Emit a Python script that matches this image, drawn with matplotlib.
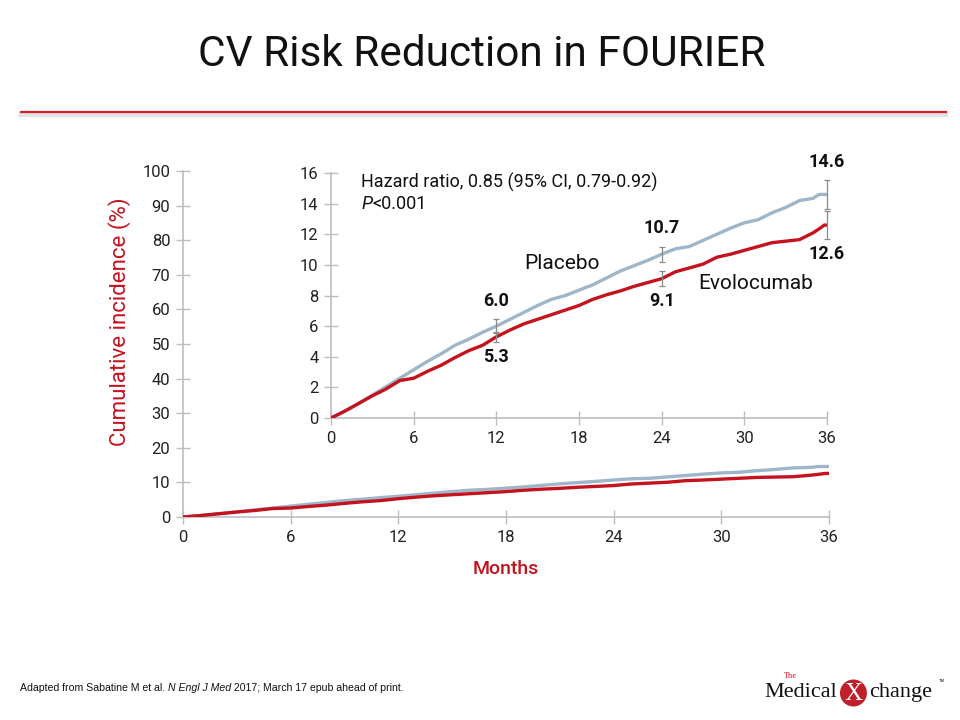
import matplotlib
matplotlib.use("Agg")
import matplotlib.pyplot as plt
from matplotlib.lines import Line2D
from matplotlib.patches import Ellipse

plt.rcParams["font.family"] = ["Roboto", "DejaVu Sans"]

RED = "#c4121f"
BLUE = "#9fb5c8"
GRAY = "#bdbdbd"
TXT = "#222222"

# Kaplan-Meier estimates (months, cumulative %)
placebo_months = [0, 1, 2, 3, 4, 5, 6, 7, 8, 9, 10, 11, 12, 13, 14, 15, 16, 17, 18,
                  19, 20, 21, 22, 23, 24, 25, 26, 27, 28, 29, 30, 31, 32, 33, 34,
                  35, 35.4, 36]
placebo_pct = [0, 0.45, 0.95, 1.5, 2.05, 2.6, 3.15, 3.7, 4.2, 4.75, 5.15, 5.6, 6.0,
               6.45, 6.9, 7.35, 7.75, 8.0, 8.35, 8.7, 9.15, 9.6, 9.95, 10.3, 10.7,
               11.05, 11.2, 11.6, 12.0, 12.4, 12.75, 12.95, 13.4, 13.75, 14.2,
               14.35, 14.6, 14.6]
evo_months = [0, 1, 2, 3, 4, 5, 6, 7, 8, 9, 10, 11, 12, 13, 14, 15, 16, 17, 18,
              19, 20, 21, 22, 23, 24, 25, 26, 27, 28, 29, 30, 31, 32, 33, 34,
              35, 35.5, 35.8, 36]
evo_pct = [0, 0.45, 0.95, 1.45, 1.9, 2.45, 2.6, 3.05, 3.45, 3.95, 4.4, 4.75, 5.3,
           5.75, 6.15, 6.45, 6.75, 7.05, 7.35, 7.75, 8.05, 8.3, 8.6, 8.85, 9.1,
           9.55, 9.8, 10.05, 10.5, 10.7, 10.95, 11.2, 11.45, 11.55, 11.65, 12.1,
           12.4, 12.6, 12.6]

# landmark values with 95% CI half-widths
mark_months = [12, 24, 36]
placebo_mark = [6.0, 10.7, 14.6]
placebo_ci = [0.45, 0.5, 0.95]
evo_mark = [5.3, 9.1, 12.6]
evo_ci = [0.35, 0.5, 0.9]

month_ticks = [0, 6, 12, 18, 24, 30, 36]
main_yticks = list(range(0, 101, 10))
inset_yticks = list(range(0, 17, 2))


def style_axes(ax):
    for s in ["top", "right"]:
        ax.spines[s].set_visible(False)
    for s in ["left", "bottom"]:
        ax.spines[s].set_color(GRAY)
        ax.spines[s].set_linewidth(1.2)
    ax.tick_params(direction="inout", length=10, width=1, color=GRAY,
                   labelsize=12, labelcolor=TXT, pad=4)


fig = plt.figure(figsize=(9.6, 7.2), dpi=100)

# title and red rule
fig.text(0.502, 0.924, "CV Risk Reduction in FOURIER", ha="center", va="center",
         fontsize=30.5, color="#111111")
fig.add_artist(Line2D([0.022, 0.985], [0.8405, 0.8405], color="#cfcfcf", lw=3,
                      transform=fig.transFigure, alpha=0.6))
fig.add_artist(Line2D([0.022, 0.985], [0.844, 0.844], color="#d41f2b", lw=1.6,
                      transform=fig.transFigure))

# main axes
ax = fig.add_axes([0.1906, 0.2819, 0.6729, 0.4806])
ax.plot(placebo_months, placebo_pct, color=BLUE, lw=2.4, zorder=3)
ax.plot(evo_months, evo_pct, color=RED, lw=2.4, zorder=4)
ax.set_xlim(0, 36)
ax.set_ylim(0, 100)
ax.set_xticks(month_ticks)
ax.set_yticks(main_yticks)
style_axes(ax)
ax.set_xlabel("Months", color=RED, fontsize=14, fontweight="medium", labelpad=11)
ax.set_ylabel("Cumulative incidence (%)", color=RED, fontsize=16)
ax.yaxis.set_label_coords(-0.08, 0.565)

# inset axes
ins = fig.add_axes([0.3448, 0.4194, 0.5167, 0.3403])
ins.patch.set_alpha(0)
ins.plot(placebo_months, placebo_pct, color=BLUE, lw=2.4, zorder=3)
ins.plot(evo_months, evo_pct, color=RED, lw=2.4, zorder=4)
for vals, ci in [(placebo_mark, placebo_ci), (evo_mark, evo_ci)]:
    eb = ins.errorbar(mark_months, vals, yerr=ci, fmt="none", ecolor="#8a8a8a",
                      elinewidth=0.9, capsize=2.5, capthick=0.9, zorder=5)
    for art in eb.lines[1] + eb.lines[2]:
        art.set_clip_on(False)
ins.set_xlim(0, 36)
ins.set_ylim(0, 16)
ins.set_xticks(month_ticks)
ins.set_yticks(inset_yticks)
style_axes(ins)

for m, p, pc, e, ec in zip(mark_months, placebo_mark, placebo_ci, evo_mark, evo_ci):
    ins.text(m, p + pc + 0.6, f"{p:.1f}", ha="center", va="bottom",
             fontsize=13, fontweight="bold", color="#111111")
    ins.text(m, e - ec - 0.4, f"{e:.1f}", ha="center", va="top",
             fontsize=13, fontweight="bold", color="#111111")

ins.text(16.8, 10.1, "Placebo", ha="center", va="center", fontsize=15, color="#111111")
ins.text(30.8, 8.8, "Evolocumab", ha="center", va="center", fontsize=15, color="#111111")

ins.text(2.2, 15.4, "Hazard ratio, 0.85 (95% CI, 0.79-0.92)", ha="left", va="center",
         fontsize=13, color="#111111")
p_txt = ins.text(2.2, 14.0, "P", ha="left", va="center", fontsize=13,
                 style="italic", color="#111111")
ins.annotate("<0.001", xy=(1, 0), xycoords=p_txt, ha="left", va="bottom",
             fontsize=13, color="#111111")

# footnote with italic journal name
fn = fig.text(0.021, 0.04, "Adapted from Sabatine M et al. ", fontsize=7.6,
              family="Liberation Sans", color="#111111", va="baseline")
jn = fig.add_artist(plt.Annotation("N Engl J Med", xy=(1, 0), xycoords=fn,
                                   fontsize=7.6, family="Liberation Sans",
                                   style="italic", color="#111111",
                                   va="bottom", ha="left"))
fig.add_artist(plt.Annotation(" 2017; March 17 epub ahead of print.", xy=(1, 0),
                              xycoords=jn, fontsize=7.6, family="Liberation Sans",
                              color="#111111", va="bottom", ha="left"))

# logo
fig.text(0.872, 0.032, "Medical", ha="right", va="baseline", fontsize=16,
         family="Liberation Serif", color="#111111")
fig.text(0.817, 0.059, "The", ha="left", va="baseline", fontsize=6,
         family="Liberation Serif", color=RED)
fig.add_artist(Ellipse((0.889, 0.0375), 27 / 960, 27 / 720, transform=fig.transFigure,
                       facecolor="#c0202a", edgecolor="none"))
fig.text(0.889, 0.036, "X", ha="center", va="center", fontsize=18,
         family="Liberation Serif", color="white")
fig.text(0.905, 0.032, "change", ha="left", va="baseline", fontsize=16,
         family="Liberation Serif", color="#111111")
fig.text(0.978, 0.053, "TM", ha="left", va="baseline", fontsize=3,
         family="Liberation Sans", color="#111111")

fig.savefig("out.png", dpi=100)
